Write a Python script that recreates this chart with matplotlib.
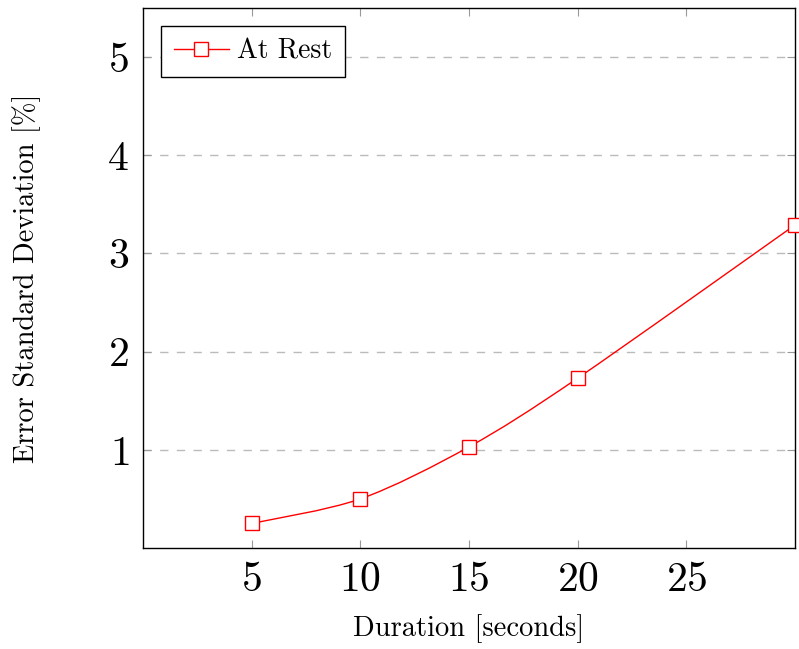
import numpy as np
import matplotlib
matplotlib.use("Agg")
import matplotlib.pyplot as plt
from matplotlib.path import Path
from matplotlib.patches import PathPatch
from matplotlib.lines import Line2D

plt.rcParams['font.family'] = ['cmr10', 'DejaVu Serif']
plt.rcParams['mathtext.fontset'] = 'cm'
plt.rcParams['axes.formatter.use_mathtext'] = True

duration = [5, 10, 15, 20, 30]
err_std = [0.25, 0.50, 1.03, 1.73, 3.29]
series_label = "At Rest"
xticks = [5, 10, 15, 20, 25]
yticks = [1, 2, 3, 4, 5]

fig = plt.figure(figsize=(7.99, 6.49), dpi=100)
ax = fig.add_axes([143/799, 1-548/649, (795-143)/799, (548-8)/649])
ax.set_xlim(0, 30)
ax.set_ylim(0, 5.5)

# smooth curve (like pgfplots "smooth") through data points
x = np.array(duration, float)
y = np.array(err_std, float)
t = 0.15
verts = [(x[0], y[0])]
codes = [Path.MOVETO]
n = len(x)
for i in range(n - 1):
    p0 = np.array([x[max(i-1, 0)], y[max(i-1, 0)]])
    p1 = np.array([x[i], y[i]])
    p2 = np.array([x[i+1], y[i+1]])
    p3 = np.array([x[min(i+2, n-1)], y[min(i+2, n-1)]])
    c1 = p1 + (p2 - p0) * t
    c2 = p2 - (p3 - p1) * t
    verts += [tuple(c1), tuple(c2), tuple(p2)]
    codes += [Path.CURVE4] * 3
ax.add_patch(PathPatch(Path(verts, codes), fill=False, edgecolor='red', lw=1.0, zorder=3, clip_on=False))
ax.plot(duration, err_std, linestyle='none', marker='s', markersize=10,
        markerfacecolor='white', markeredgecolor='red', markeredgewidth=1.0,
        zorder=4, clip_on=False)

ax.set_xticks(xticks)
ax.set_yticks(yticks)
ax.tick_params(direction='in', length=6, width=0.8, color='#999999',
               top=True, right=True, labelsize=30, pad=10)
ax.yaxis.grid(True, linestyle=(0, (6, 6)), color='#bbbbbb', lw=1.0)
ax.set_axisbelow(True)
for s in ax.spines.values():
    s.set_linewidth(1.0)

ax.set_xlabel("Duration [seconds]", fontsize=20.5, labelpad=11)
ax.set_ylabel("Error Standard Deviation [%]", fontsize=20.5, labelpad=48)

h = Line2D([], [], color='red', lw=1.0, marker='s', markersize=10,
           markerfacecolor='white', markeredgecolor='red')
leg = ax.legend([h], [series_label], loc='upper left', fontsize=20,
                fancybox=False, edgecolor='black', framealpha=1,
                borderaxespad=0.65, handlelength=2.0, handletextpad=0.3,
                borderpad=0.45)
leg.get_frame().set_linewidth(1.0)

fig.savefig("out.png", dpi=100)
